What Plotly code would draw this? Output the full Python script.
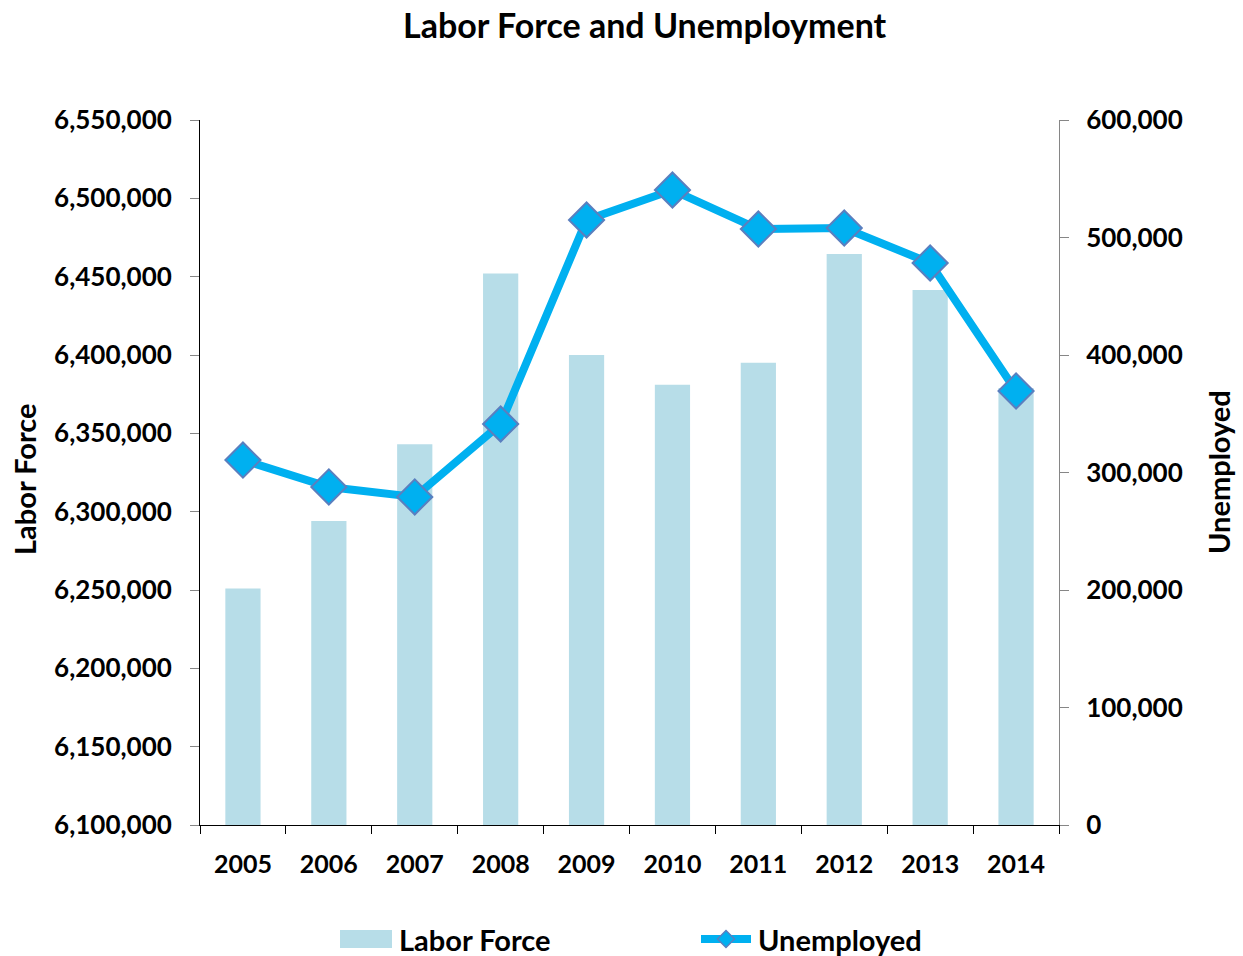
import plotly.graph_objects as go

years = ["2005", "2006", "2007", "2008", "2009", "2010", "2011", "2012", "2013", "2014"]
labor_force = [6251000, 6294000, 6343000, 6452000, 6400000, 6381000, 6395000, 6464500, 6441500, 6379000]
unemployed = [310600, 287700, 279200, 341300, 514900, 540400, 507200, 508100, 478300, 369400]

W, H = 1243, 956
ML, MR, MT, MB = 200, 184, 120, 131
PW, PH = W - ML - MR, H - MT - MB

BAR_COLOR = "#B7DDE8"
LINE_COLOR = "#00B0F0"
MARKER_EDGE = "#5A7FBF"
FONT = "Lato"


def px(x):
    return (x - ML) / PW


def py(y):
    return (H - MB - y) / PH


fig = go.Figure()
fig.add_trace(go.Bar(
    x=years, y=labor_force, name="Labor Force",
    marker=dict(color=BAR_COLOR, line=dict(width=0)),
    width=0.41, yaxis="y",
))
fig.add_trace(go.Scatter(
    x=years, y=unemployed, name="Unemployed", mode="lines+markers",
    line=dict(color=LINE_COLOR, width=8),
    marker=dict(symbol="diamond", size=27, color=LINE_COLOR,
                line=dict(color=MARKER_EDGE, width=2)),
    yaxis="y2",
))

tick_font = dict(family=FONT, size=26, color="black", weight="bold")
x_tick_font = dict(family=FONT, size=25, color="black", weight="bold")

fig.update_layout(
    width=W, height=H,
    margin=dict(l=ML, r=MR, t=MT, b=MB),
    paper_bgcolor="white", plot_bgcolor="white",
    showlegend=False,
    xaxis=dict(
        type="category", range=[-0.5, 9.5], tickson="boundaries",
        ticks="outside", ticklen=8,
        tickcolor="black", showline=True, linecolor="black", linewidth=1,
        showgrid=False, tickfont=x_tick_font, ticklabelstandoff=17,
    ),
    yaxis=dict(
        range=[6100000, 6550000], dtick=50000, tickformat=",",
        ticks="outside", ticklen=9, tickcolor="#868686",
        showline=True, linecolor="black", linewidth=1,
        showgrid=False, zeroline=False, tickfont=tick_font, ticklabelstandoff=13,
    ),
    yaxis2=dict(
        range=[0, 600000], dtick=100000, tickformat=",",
        overlaying="y", side="right",
        ticks="outside", ticklen=9, tickcolor="#868686",
        showline=True, linecolor="#868686", linewidth=1,
        showgrid=False, zeroline=False, tickfont=tick_font, ticklabelstandoff=12,
    ),
)

annotations = [
    dict(text="Labor Force and Unemployment", x=px(645), y=py(25),
         font=dict(family=FONT, size=34, color="black", weight="bold")),
    dict(text="Labor Force", x=px(25), y=py(479), textangle=-90,
         font=dict(family=FONT, size=29, color="black", weight="bold")),
    dict(text="Unemployed", x=px(1218), y=py(472), textangle=-90,
         font=dict(family=FONT, size=29, color="black", weight="bold")),
    dict(text="Labor Force", x=px(397), y=py(939), xanchor="left",
         font=dict(family=FONT, size=29, color="black", weight="bold")),
    dict(text="Unemployed", x=px(756), y=py(939), xanchor="left",
         font=dict(family=FONT, size=29, color="black", weight="bold")),
]
for a in annotations:
    a.setdefault("xanchor", "center")
    a.update(xref="paper", yref="paper", yanchor="middle", showarrow=False)
fig.update_layout(annotations=annotations)

# legend keys
dcx, dcy, dr = 726, 939, 8.5
shapes = [
    dict(type="rect", x0=px(340), x1=px(392), y0=py(930), y1=py(948),
         fillcolor=BAR_COLOR, line=dict(width=0)),
    dict(type="line", x0=px(701), x1=px(751), y0=py(939), y1=py(939),
         line=dict(color=LINE_COLOR, width=8)),
    dict(type="path",
         path=(f"M {px(dcx - dr)} {py(dcy)} L {px(dcx)} {py(dcy - dr)} "
               f"L {px(dcx + dr)} {py(dcy)} L {px(dcx)} {py(dcy + dr)} Z"),
         fillcolor=LINE_COLOR, line=dict(color=MARKER_EDGE, width=1.5)),
]
for s in shapes:
    s.update(xref="paper", yref="paper")
fig.update_layout(shapes=shapes)

fig.write_html("out.html")
